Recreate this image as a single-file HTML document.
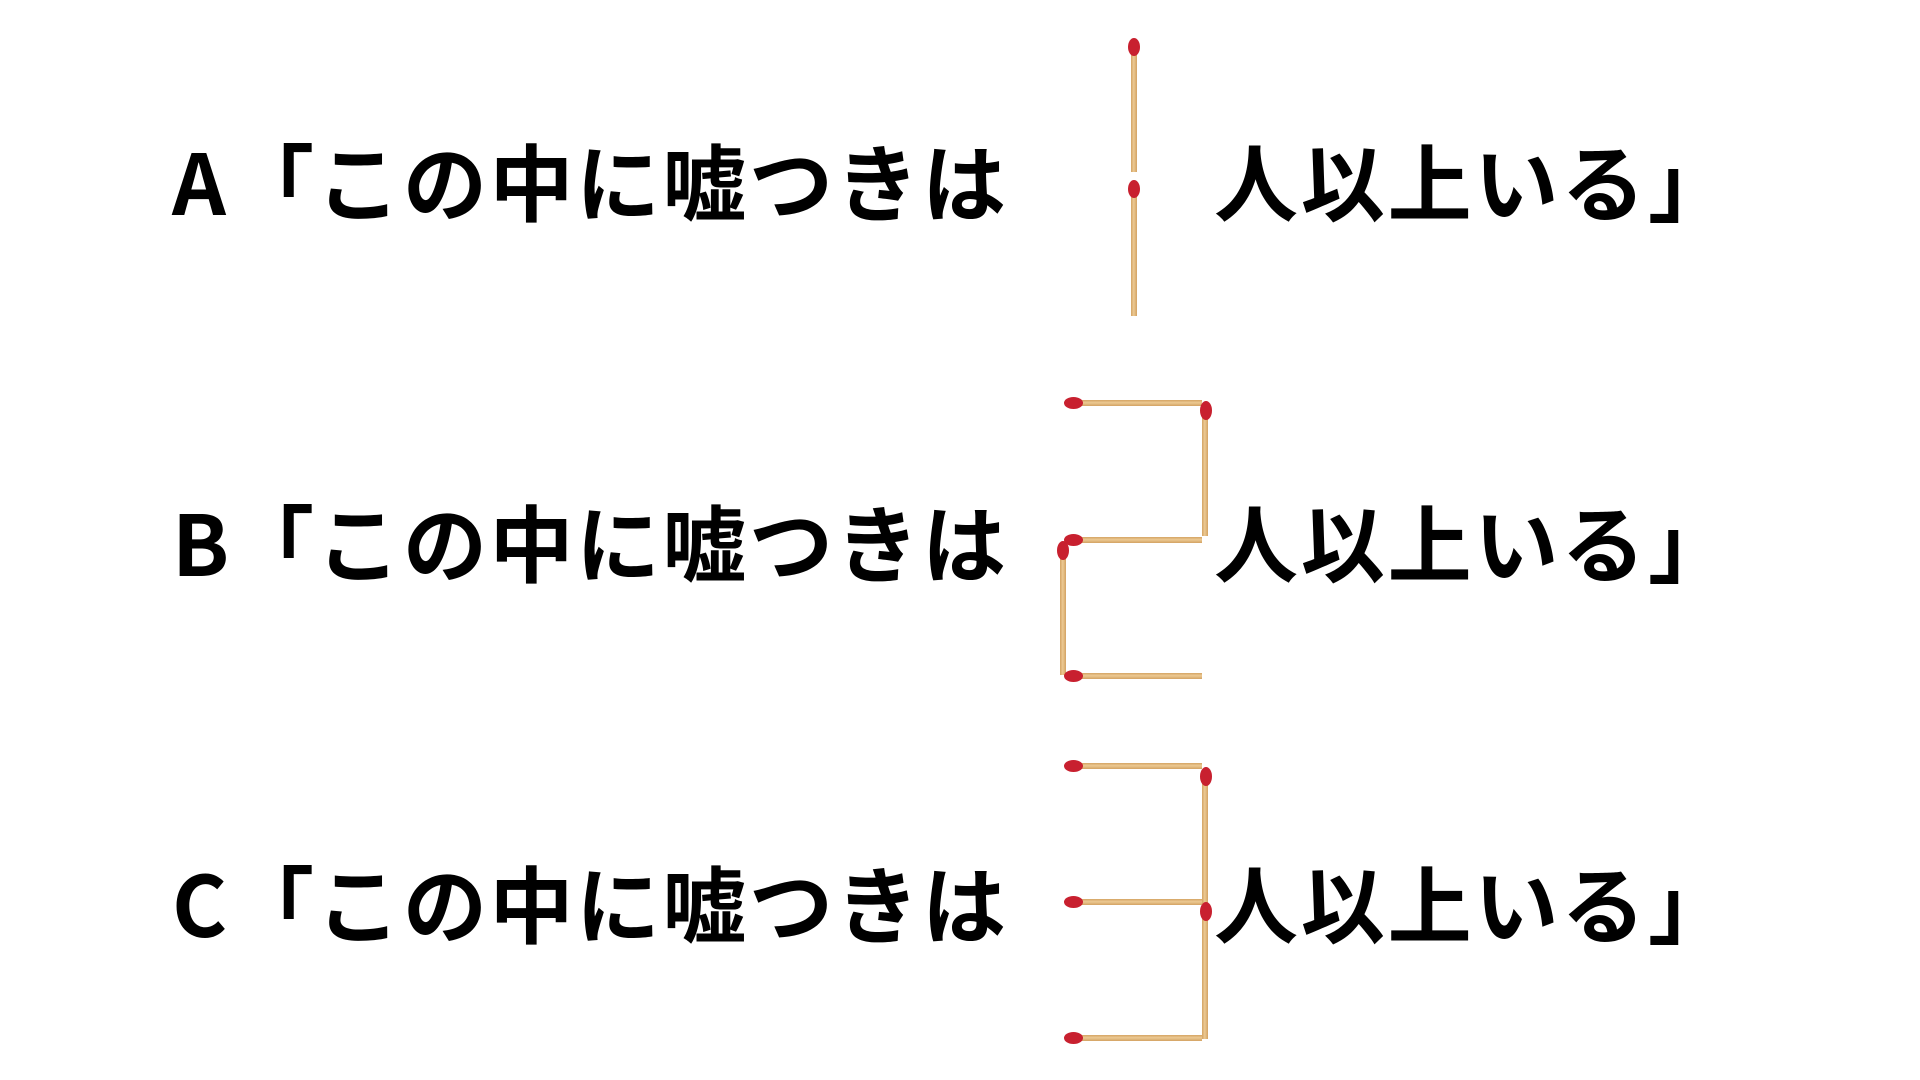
<!DOCTYPE html>
<html><head><meta charset="utf-8"><style>
body{margin:0;width:1920px;height:1080px;background:#fff;position:relative;overflow:hidden}
.t{position:absolute;font-family:"Noto Sans CJK JP",sans-serif;font-weight:bold;font-size:84px;line-height:1;color:#000;white-space:nowrap}
.h,.v{position:absolute;background:linear-gradient(#d4a463,#ecc993 45%,#d3a262);}
.h{height:6px}
.v{width:6px;background:linear-gradient(90deg,#d4a463,#ecc993 45%,#d3a262)}
.hd{position:absolute;background:#c8202f;border-radius:50%}
</style></head><body>
<div class="t" style="left:172px;top:138px">A</div>
<div class="t" style="left:230px;top:138px;letter-spacing:2.5px">「この中に嘘つきは</div>
<div class="t" style="left:1214px;top:138px;letter-spacing:2.8px">人以上いる」</div>
<div class="t" style="left:172px;top:499px">B</div>
<div class="t" style="left:230px;top:499px;letter-spacing:2.5px">「この中に嘘つきは</div>
<div class="t" style="left:1214px;top:499px;letter-spacing:2.8px">人以上いる」</div>
<div class="t" style="left:172px;top:860px">C</div>
<div class="t" style="left:230px;top:860px;letter-spacing:2.5px">「この中に嘘つきは</div>
<div class="t" style="left:1214px;top:860px;letter-spacing:2.8px">人以上いる」</div>

<!-- A -->
<div class="v" style="left:1131px;top:44px;height:128px"></div><div class="hd" style="left:1128px;top:38px;width:12px;height:18px"></div>
<div class="v" style="left:1131px;top:186px;height:130px"></div><div class="hd" style="left:1128px;top:180px;width:12px;height:18px"></div>
<!-- B -->
<div class="h" style="left:1070px;top:400px;width:132px"></div><div class="hd" style="left:1064px;top:397px;width:19px;height:12px"></div>
<div class="v" style="left:1202px;top:406px;height:130px"></div><div class="hd" style="left:1200px;top:401px;width:12px;height:19px"></div>
<div class="h" style="left:1070px;top:537px;width:132px"></div><div class="hd" style="left:1064px;top:534px;width:19px;height:12px"></div>
<div class="v" style="left:1060px;top:545px;height:130px"></div><div class="hd" style="left:1057px;top:541px;width:12px;height:19px"></div>
<div class="h" style="left:1070px;top:673px;width:132px"></div><div class="hd" style="left:1064px;top:670px;width:19px;height:12px"></div>
<!-- C -->
<div class="h" style="left:1070px;top:763px;width:132px"></div><div class="hd" style="left:1064px;top:760px;width:19px;height:12px"></div>
<div class="v" style="left:1202px;top:771px;height:133px"></div><div class="hd" style="left:1200px;top:767px;width:12px;height:19px"></div>
<div class="h" style="left:1070px;top:899px;width:132px"></div><div class="hd" style="left:1064px;top:896px;width:19px;height:12px"></div>
<div class="v" style="left:1202px;top:906px;height:133px"></div><div class="hd" style="left:1200px;top:902px;width:12px;height:19px"></div>
<div class="h" style="left:1070px;top:1035px;width:132px"></div><div class="hd" style="left:1064px;top:1032px;width:19px;height:12px"></div>
</body></html>
